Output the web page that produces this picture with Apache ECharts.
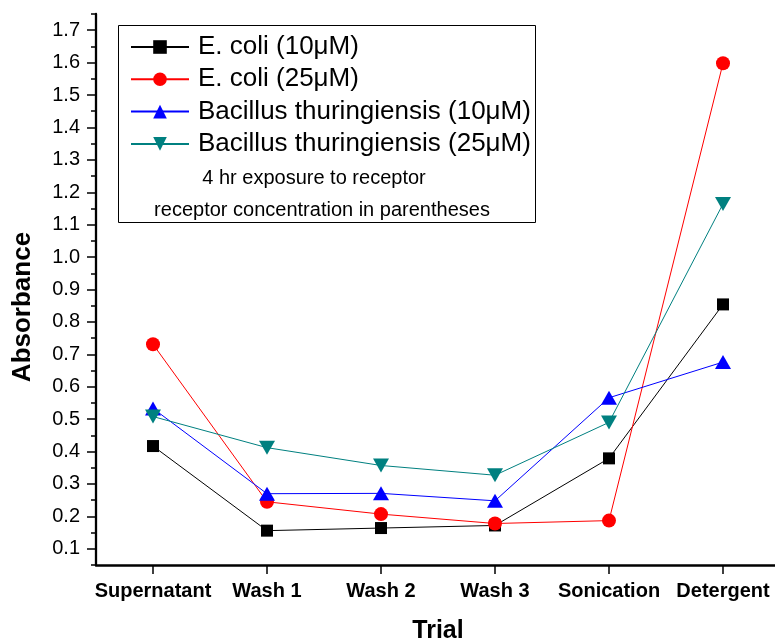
<!DOCTYPE html>
<html>
<head>
<meta charset="utf-8">
<script src="https://cdn.jsdelivr.net/npm/echarts@6/dist/echarts.min.js"></script>
<style>
  html, body { margin: 0; padding: 0; background: #fff; }
  #chart { width: 775px; height: 642px; }
</style>
</head>
<body>
<div id="chart"></div>
<script>
// Absorbance measured after each trial step
const trials = ['Supernatant', 'Wash 1', 'Wash 2', 'Wash 3', 'Sonication', 'Detergent'];
const seriesNames = [
  'E. coli (10\u03bcM)',
  'E. coli (25\u03bcM)',
  'Bacillus thuringiensis (10\u03bcM)',
  'Bacillus thuringiensis (25\u03bcM)'
];
const ecoli10 = [0.417, 0.156, 0.164, 0.172, 0.379, 0.854];
const ecoli25 = [0.731, 0.245, 0.207, 0.178, 0.187, 1.598];
const bt10    = [0.533, 0.270, 0.271, 0.248, 0.566, 0.676];
const bt25    = [0.508, 0.412, 0.357, 0.327, 0.490, 1.164];

// Y axis ticks: labelled majors and unlabelled minors
const yTicks = [0.1, 0.2, 0.3, 0.4, 0.5, 0.6, 0.7, 0.8, 0.9, 1.0, 1.1, 1.2, 1.3, 1.4, 1.5, 1.6, 1.7];
const yMinorTicks = [0.05, 0.15, 0.25, 0.35, 0.45, 0.55, 0.65, 0.75, 0.85, 0.95,
                     1.05, 1.15, 1.25, 1.35, 1.45, 1.55, 1.65, 1.75];
const yMin = 0.05, yMax = 1.75;

const noteLines = ['4 hr exposure to receptor', 'receptor concentration in parentheses'];

const FONT = "'Liberation Sans', Arial, Helvetica, sans-serif";
const downTriangle = 'path://M0,0L20,0L10,17Z';

const chart = echarts.init(document.getElementById('chart'), null, { renderer: 'canvas' });

function lineSeries(name, data, color, symbol, size) {
  return {
    name: name,
    type: 'line',
    data: data,
    symbol: symbol,
    symbolSize: size,
    showAllSymbol: true,
    lineStyle: { color: color, width: 1 },
    itemStyle: { color: color, opacity: 1 },
    emphasis: { disabled: true },
    animation: false
  };
}

const option = {
  animation: false,
  backgroundColor: '#fff',
  grid: { left: 96, top: 14, width: 684, height: 551, containLabel: false, outerBoundsMode: 'none' },
  xAxis: {
    type: 'category',
    data: trials,
    boundaryGap: true,
    axisLine: { show: true, lineStyle: { color: '#000', width: 2.5 } },
    axisTick: { show: true, alignWithLabel: true, length: 9, lineStyle: { color: '#000', width: 1.5 } },
    axisLabel: { interval: 0, color: '#000', fontFamily: FONT, fontWeight: 'bold', fontSize: 20, margin: 16 },
    splitLine: { show: false },
    name: 'Trial',
    nameLocation: 'middle',
    nameGap: 54,
    nameTextStyle: { color: '#000', fontFamily: FONT, fontWeight: 'bold', fontSize: 25 }
  },
  yAxis: [
    {
      type: 'value',
      min: yMin,
      max: yMax,
      position: 'left',
      axisLine: { show: true, lineStyle: { color: '#000', width: 2.3 } },
      axisTick: { show: true, length: 9, customValues: yTicks, lineStyle: { color: '#000', width: 1.5 } },
      axisLabel: {
        customValues: yTicks,
        formatter: function (v) { return v.toFixed(1); },
        color: '#000', fontFamily: FONT, fontSize: 20, margin: 16
      },
      splitLine: { show: false }
    },
    {
      type: 'value',
      min: yMin,
      max: yMax,
      position: 'left',
      axisLine: { show: false },
      axisTick: { show: true, length: 5, customValues: yMinorTicks, lineStyle: { color: '#000', width: 1.5 } },
      axisLabel: { show: false },
      splitLine: { show: false }
    }
  ],
  legend: {
    orient: 'vertical',
    left: 125,
    top: 29,
    padding: 5,
    itemWidth: 58,
    itemHeight: 17,
    itemGap: 6.3,
    selectedMode: false,
    data: seriesNames,
    textStyle: { color: '#000', fontFamily: FONT, fontSize: 26, lineHeight: 24, padding: [0, 0, 0, 4] }
  },
  graphic: [
    {
      type: 'rect',
      z: 1,
      shape: { x: 118.5, y: 25.5, width: 417, height: 197 },
      style: { fill: '#fff', stroke: '#000', lineWidth: 1 }
    },
    {
      type: 'text', z: 5, x: 314, y: 178,
      style: { text: noteLines[0], font: '20px ' + FONT, fill: '#000', align: 'center', verticalAlign: 'middle', textAlign: 'center', textVerticalAlign: 'middle' }
    },
    {
      type: 'text', z: 5, x: 322, y: 210,
      style: { text: noteLines[1], font: '20px ' + FONT, fill: '#000', align: 'center', verticalAlign: 'middle', textAlign: 'center', textVerticalAlign: 'middle' }
    },
    {
      type: 'text', z: 5, x: 23, y: 307, rotation: Math.PI / 2,
      style: { text: 'Absorbance', font: 'bold 26px ' + FONT, fill: '#000', align: 'center', verticalAlign: 'middle', textAlign: 'center', textVerticalAlign: 'middle' }
    }
  ],
  series: [
    lineSeries(seriesNames[0], ecoli10, '#000000', 'rect', 12),
    lineSeries(seriesNames[1], ecoli25, '#ff0000', 'circle', 14),
    lineSeries(seriesNames[2], bt10, '#0000ff', 'triangle', [16, 14]),
    lineSeries(seriesNames[3], bt25, '#008080', downTriangle, [16, 14])
  ]
};

chart.setOption(option);
</script>
</body>
</html>
